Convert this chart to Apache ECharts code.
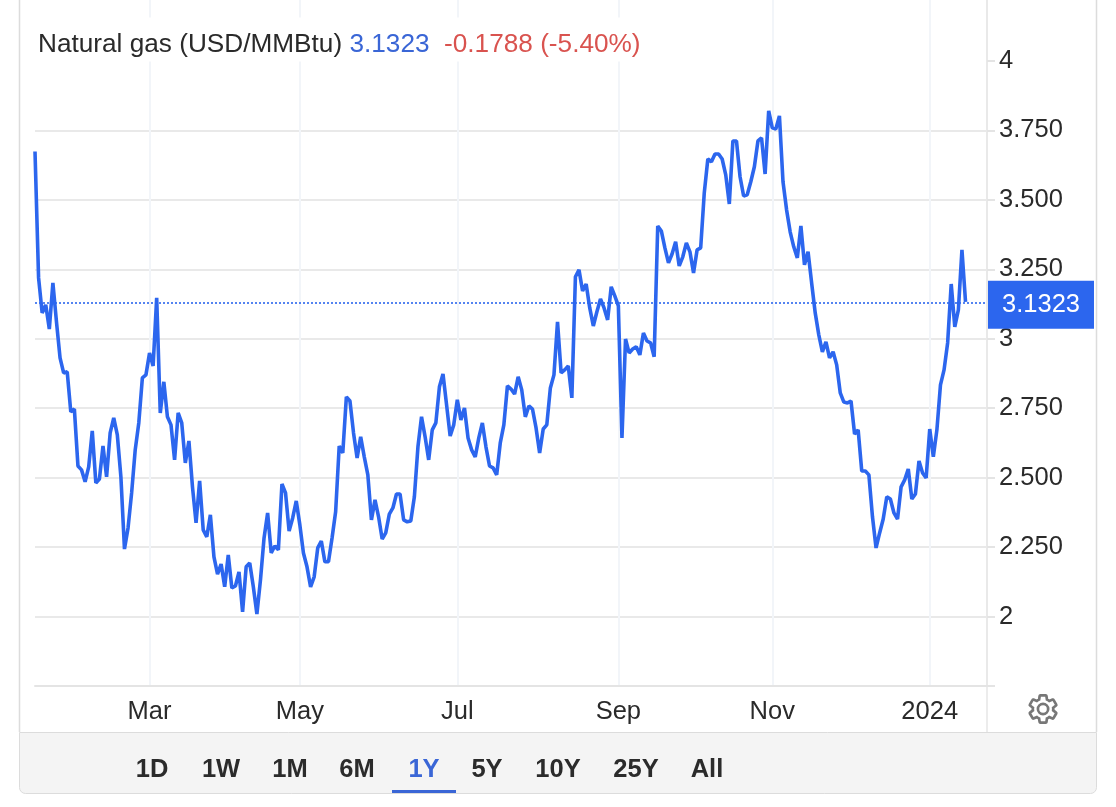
<!DOCTYPE html>
<html>
<head>
<meta charset="utf-8">
<title>Natural gas</title>
<script src="https://cdn.jsdelivr.net/npm/echarts@6/dist/echarts.min.js"></script>
<style>
  html, body { margin: 0; padding: 0; background: #fff; }
  #chart { width: 1116px; height: 807px; }
</style>
</head>
<body>
<div id="chart"></div>
<script>
// daily close, USD/MMBtu
const values = [
  3.674, 3.219, 3.093, 3.122, 3.035, 3.201, 3.061, 2.931, 2.877, 2.881,
  2.737, 2.747, 2.542, 2.528, 2.485, 2.539, 2.668, 2.481, 2.495, 2.614,
  2.503, 2.661, 2.715, 2.654, 2.503, 2.243, 2.319, 2.445, 2.600, 2.697,
  2.859, 2.870, 2.949, 2.902, 3.147, 2.733, 2.845, 2.719, 2.690, 2.564,
  2.733, 2.697, 2.553, 2.632, 2.467, 2.337, 2.488, 2.312, 2.287, 2.366,
  2.215, 2.153, 2.189, 2.107, 2.222, 2.103, 2.110, 2.161, 2.017, 2.179,
  2.193, 2.107, 2.009, 2.132, 2.283, 2.373, 2.229, 2.254, 2.240, 2.477,
  2.445, 2.308, 2.355, 2.416, 2.330, 2.229, 2.179, 2.107, 2.143, 2.247,
  2.272, 2.197, 2.197, 2.283, 2.377, 2.614, 2.589, 2.791, 2.776, 2.661,
  2.571, 2.647, 2.575, 2.510, 2.348, 2.420, 2.359, 2.279, 2.301, 2.369,
  2.391, 2.441, 2.441, 2.348, 2.341, 2.344, 2.431, 2.611, 2.719, 2.647,
  2.564, 2.672, 2.697, 2.827, 2.873, 2.762, 2.650, 2.690, 2.780, 2.708,
  2.751, 2.643, 2.600, 2.575, 2.643, 2.697, 2.611, 2.542, 2.535, 2.510,
  2.625, 2.690, 2.830, 2.819, 2.801, 2.863, 2.816, 2.719, 2.758, 2.747,
  2.679, 2.589, 2.675, 2.690, 2.823, 2.870, 3.061, 2.877, 2.888, 2.902,
  2.787, 3.223, 3.248, 3.172, 3.197, 3.111, 3.046, 3.097, 3.143, 3.111,
  3.068, 3.187, 3.154, 3.118, 2.643, 2.999, 2.949, 2.963, 2.971, 2.942,
  3.021, 2.992, 2.985, 2.935, 3.406, 3.388, 3.327, 3.273, 3.305, 3.349,
  3.262, 3.295, 3.345, 3.313, 3.237, 3.320, 3.327, 3.525, 3.647, 3.637,
  3.665, 3.665, 3.647, 3.590, 3.485, 3.712, 3.712, 3.583, 3.514, 3.518,
  3.565, 3.619, 3.712, 3.723, 3.593, 3.820, 3.759, 3.755, 3.802, 3.565,
  3.464, 3.385, 3.331, 3.291, 3.406, 3.266, 3.313, 3.201, 3.093, 3.014,
  2.953, 2.989, 2.931, 2.953, 2.906, 2.805, 2.772, 2.769, 2.776, 2.657,
  2.672, 2.524, 2.524, 2.510, 2.359, 2.247, 2.301, 2.351, 2.431, 2.423,
  2.373, 2.351, 2.467, 2.492, 2.531, 2.423, 2.441, 2.560, 2.517, 2.499,
  2.675, 2.575, 2.672, 2.834, 2.888, 2.985, 3.197, 3.043, 3.104, 3.320,
  3.1323
];
const lastValue = 3.1323;
const change = '-0.1788 (-5.40%)';
const seriesName = 'Natural gas (USD/MMBtu)';

// trading-day slots, the last few are the empty room before the price axis
const slotCount = 267;
const monthSlots = [32, 74, 118, 163, 206, 250];
const monthLabels = ['Mar', 'May', 'Jul', 'Sep', 'Nov', '2024'];

const yLabelTicks = [2, 2.25, 2.5, 2.75, 3, 3.25, 3.5, 3.75, 4];
const yTickMarks = [1.75, 2, 2.25, 2.5, 2.75, 3, 3.25, 3.5, 3.75, 4];
const rangeLabels = ['1D', '1W', '1M', '6M', '1Y', '5Y', '10Y', '25Y', 'All'];
const activeRange = '1Y';

const BLUE = '#2c66ee';
const FONT = '"Liberation Sans", Arial, sans-serif';

const categories = Array.from({ length: slotCount }, (_, i) => String(i));
const isMonthSlot = (index) => monthSlots.indexOf(index) !== -1;

// settings icon, outline only. graphic has no plain path type so register one
const gearPath = 'M19.14 12.94c.04-.3.06-.61.06-.94 0-.32-.02-.64-.07-.94l2.03-1.58c.18-.14.23-.41.12-.61l-1.92-3.32c-.12-.22-.37-.29-.59-.22l-2.39.96c-.5-.38-1.03-.7-1.62-.94l-.36-2.54c-.04-.24-.24-.41-.48-.41h-3.84c-.24 0-.43.17-.47.41l-.36 2.54c-.59.24-1.13.57-1.62.94l-2.39-.96c-.22-.08-.47 0-.59.22L2.74 8.87c-.12.21-.08.47.12.61l2.03 1.58c-.05.3-.09.63-.09.94s.02.64.07.94l-2.03 1.58c-.18.14-.23.41-.12.61l1.92 3.32c.12.22.37.29.59.22l2.39-.96c.5.38 1.03.7 1.62.94l.36 2.54c.05.24.24.41.48.41h3.84c.24 0 .44-.17.47-.41l.36-2.54c.59-.24 1.13-.56 1.62-.94l2.39.96c.22.08.47 0 .59-.22l1.92-3.32c.12-.22.07-.47-.12-.61l-2.01-1.58zM12 15.6c-1.98 0-3.6-1.62-3.6-3.6s1.62-3.6 3.6-3.6 3.6 1.62 3.6 3.6-1.62 3.6-3.6 3.6z';
echarts.graphic.registerShape('gear', echarts.graphic.extendPath(gearPath, {}));

const rangeCenters = [152, 221, 290, 357, 424, 487, 558, 636, 707];

const buildGraphic = () => {
  const items = [
    // frame round the chart
    { type: 'line', silent: true, shape: { x1: 19.5, y1: 0, x2: 19.5, y2: 732 }, style: { stroke: '#dcdcdc', lineWidth: 1.5 } },
    { type: 'line', silent: true, shape: { x1: 1096.5, y1: 0, x2: 1096.5, y2: 732 }, style: { stroke: '#dcdcdc', lineWidth: 1.5 } },
    { type: 'line', silent: true, shape: { x1: 987, y1: 686, x2: 987, y2: 732 }, style: { stroke: '#ececec', lineWidth: 2 } },
    // range bar
    {
      type: 'rect', silent: true,
      shape: { x: 19.5, y: 732.5, width: 1077, height: 61, r: [0, 0, 6, 6] },
      style: { fill: '#f4f4f4', stroke: '#dcdcdc', lineWidth: 1 }
    },
    {
      type: 'rect', silent: true,
      shape: { x: 392, y: 790, width: 64, height: 3 },
      style: { fill: '#3a66d6' }
    },
    {
      type: 'gear', silent: true,
      x: 1026, y: 692, scaleX: 1.42, scaleY: 1.42,
      style: { fill: 'none', stroke: '#777', lineWidth: 1.9 }
    }
  ];
  rangeLabels.forEach((label, i) => {
    items.push({
      type: 'text', silent: true,
      x: rangeCenters[i], y: 770,
      style: {
        text: label,
        fill: label === activeRange ? '#3a66d6' : '#2b2b2b',
        font: 'bold 25.5px ' + FONT,
        textAlign: 'center',
        textVerticalAlign: 'middle'
      }
    });
  });
  return items;
};

const option = {
  animation: false,
  backgroundColor: '#fff',
  title: {
    left: 34,
    top: 15,
    padding: [14, 9, 4, 4],
    backgroundColor: '#fff',
    text: '{name|' + seriesName + '} {last|' + lastValue.toFixed(4) + '}  {chg|' + change + '}',
    textStyle: {
      fontWeight: 'normal',
      fontFamily: FONT,
      fontSize: 26.2,
      rich: {
        name: { fontFamily: FONT, fontWeight: 'normal', fontSize: 26.2, color: '#2a2a2a', lineHeight: 31 },
        last: { fontFamily: FONT, fontWeight: 'normal', fontSize: 26.2, color: '#3a66d6', lineHeight: 31 },
        chg: { fontFamily: FONT, fontWeight: 'normal', fontSize: 26.2, color: '#d9534f', lineHeight: 31 }
      }
    }
  },
  grid: { left: 35, right: 129, top: 0, bottom: 121 },
  xAxis: {
    type: 'category',
    data: categories,
    boundaryGap: false,
    axisLine: { lineStyle: { color: '#e4e4e4', width: 2 } },
    axisTick: { show: false },
    axisLabel: {
      interval: (index) => isMonthSlot(index),
      formatter: (value, index) => monthLabels[monthSlots.indexOf(index)] || '',
      margin: 13,
      color: '#2a2a2a',
      fontFamily: FONT,
      fontSize: 25.5
    },
    splitLine: {
      show: true,
      interval: (index) => isMonthSlot(index),
      lineStyle: { color: '#f2f5f9', width: 2 }
    }
  },
  yAxis: {
    type: 'value',
    position: 'right',
    min: 1.75,
    max: 4.2194,
    interval: 0.25,
    axisLine: { show: true, lineStyle: { color: '#e9e9e9', width: 2 } },
    axisTick: {
      show: true,
      customValues: yTickMarks,
      length: 8,
      lineStyle: { color: '#e4e4e4', width: 2 }
    },
    axisLabel: {
      customValues: yLabelTicks,
      formatter: (v) => (Number.isInteger(v) ? String(v) : v.toFixed(3)),
      margin: 12,
      padding: [0, 0, 6, 0],
      color: '#2a2a2a',
      fontFamily: FONT,
      fontSize: 25.5
    },
    splitLine: {
      show: true,
      showMinLine: false,
      showMaxLine: false,
      lineStyle: { color: '#e9e9e9', width: 2 }
    }
  },
  series: [
    {
      name: seriesName,
      type: 'line',
      data: values,
      showSymbol: false,
      lineStyle: { color: BLUE, width: 3.6 },
      itemStyle: { color: BLUE },
      z: 3,
      markLine: {
        silent: true,
        symbol: 'none',
        animation: false,
        lineStyle: { color: BLUE, type: [2, 2], width: 1.6 },
        label: {
          show: true,
          position: 'end',
          distance: 1,
          offset: [0, 2],
          formatter: () => lastValue.toFixed(4),
          color: '#fff',
          backgroundColor: BLUE,
          fontFamily: FONT,
          fontSize: 25.5,
          padding: [12, 14, 10, 14]
        },
        data: [{ yAxis: lastValue }]
      }
    }
  ],
  graphic: buildGraphic()
};

const chartInstance = echarts.init(document.getElementById('chart'));
chartInstance.setOption(option);
</script>
</body>
</html>
